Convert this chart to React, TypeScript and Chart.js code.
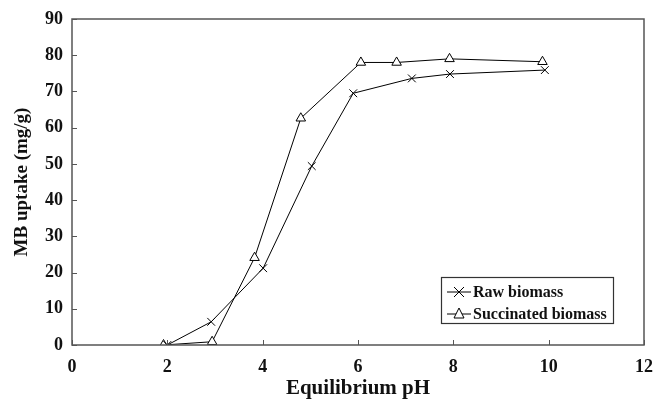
import React, { useEffect, useRef } from "react";
import { Chart, registerables } from "chart.js";

Chart.register(...registerables);

const rawPH = [2.0, 2.92, 4.01, 5.03, 5.9, 7.13, 7.93, 9.92];
const rawUptake = [0, 6.4, 21.2, 49.4, 69.5, 73.6, 74.8, 75.9];
const sucPH = [1.92, 2.94, 3.83, 4.8, 6.06, 6.81, 7.92, 9.87];
const sucUptake = [0, 0.9, 24.1, 62.6, 78.0, 78.0, 79.0, 78.2];
const seriesLabels = ["Raw biomass", "Succinated biomass"];
const xTicks = [0, 2, 4, 6, 8, 10, 12];
const yTicks = [0, 10, 20, 30, 40, 50, 60, 70, 80, 90];

const FONT = "'Liberation Serif', 'Times New Roman', serif";

const framePlugin = {
  id: "frameAndTicks",
  afterDatasetsDraw(chart: any) {
    const { ctx, chartArea, scales } = chart;
    ctx.save();
    ctx.strokeStyle = "#555";
    ctx.lineWidth = 1.5;
    ctx.strokeRect(chartArea.left, chartArea.top, chartArea.right - chartArea.left, chartArea.bottom - chartArea.top);
    ctx.lineWidth = 1;
    ctx.beginPath();
    xTicks.forEach((v) => {
      const px = Math.round(scales.x.getPixelForValue(v)) + 0.5;
      ctx.moveTo(px, chartArea.bottom);
      ctx.lineTo(px, chartArea.bottom - 5);
    });
    yTicks.forEach((v) => {
      const py = Math.round(scales.y.getPixelForValue(v)) + 0.5;
      ctx.moveTo(chartArea.left, py);
      ctx.lineTo(chartArea.left + 5, py);
    });
    ctx.stroke();

    // legend
    const lx = 441, ly = 277, lw = 172, lh = 46;
    ctx.fillStyle = "#fff";
    ctx.fillRect(lx, ly, lw, lh);
    ctx.strokeStyle = "#333";
    ctx.lineWidth = 1.2;
    ctx.strokeRect(lx + 0.5, ly + 0.5, lw, lh);
    const rows = [ly + 15, ly + 37];
    ctx.font = `bold 16px ${FONT}`;
    ctx.textBaseline = "middle";
    rows.forEach((ry, i) => {
      ctx.strokeStyle = "#000";
      ctx.lineWidth = 1;
      ctx.beginPath();
      ctx.moveTo(lx + 6, ry);
      ctx.lineTo(lx + 30, ry);
      ctx.stroke();
      const cx = lx + 18;
      if (i === 0) {
        ctx.beginPath();
        ctx.moveTo(cx - 5, ry - 5);
        ctx.lineTo(cx + 5, ry + 5);
        ctx.moveTo(cx + 5, ry - 5);
        ctx.lineTo(cx - 5, ry + 5);
        ctx.stroke();
      } else {
        ctx.fillStyle = "#fff";
        ctx.beginPath();
        ctx.moveTo(cx, ry - 6);
        ctx.lineTo(cx + 5, ry + 4);
        ctx.lineTo(cx - 5, ry + 4);
        ctx.closePath();
        ctx.fill();
        ctx.stroke();
      }
      ctx.fillStyle = "#111";
      ctx.textAlign = "left";
      ctx.fillText(chart.data.datasets[i].label, lx + 32, ry + 1);
    });
    ctx.restore();
  },
};

export default function App() {
  const ref = useRef<HTMLCanvasElement | null>(null);
  useEffect(() => {
    document.body.style.margin = "0";
    const chart = new Chart(ref.current!, {
      type: "scatter",
      data: {
        datasets: [
          {
            label: seriesLabels[0],
            data: rawPH.map((x, i) => ({ x, y: rawUptake[i] })),
            showLine: true,
            borderColor: "#000",
            borderWidth: 1,
            pointStyle: "crossRot",
            pointRadius: 5.5,
            pointBorderWidth: 1,
            pointBorderColor: "#000",
            pointBackgroundColor: "#fff",
          },
          {
            label: seriesLabels[1],
            data: sucPH.map((x, i) => ({ x, y: sucUptake[i] })),
            showLine: true,
            borderColor: "#000",
            borderWidth: 1,
            pointStyle: "triangle",
            pointRadius: 5.5,
            pointBorderWidth: 1,
            pointBorderColor: "#000",
            pointBackgroundColor: "#fff",
          },
        ],
      },
      options: {
        responsive: false,
        animation: false,
        layout: { padding: { left: 0, right: 12, top: 19, bottom: 0 } },
        plugins: { legend: { display: false }, tooltip: { enabled: false } },
        scales: {
          x: {
            type: "linear",
            min: 0,
            max: 12,
            afterBuildTicks: (s: any) => { s.ticks = xTicks.map((v) => ({ value: v })); },
            afterFit: (s: any) => { s.height = 58; s.paddingRight = 0; s.paddingLeft = 0; },
            grid: { display: false, drawTicks: false },
            border: { display: false },
            ticks: { padding: 12, color: "#111", font: { family: FONT, size: 18, weight: "bold" } },
            title: {
              display: true,
              text: "Equilibrium pH",
              color: "#111",
              padding: { top: 0, bottom: 2 },
              font: { family: FONT, size: 21, weight: "bold" },
            },
          },
          y: {
            type: "linear",
            min: 0,
            max: 90,
            afterBuildTicks: (s: any) => { s.ticks = yTicks.map((v) => ({ value: v })); },
            afterFit: (s: any) => { s.width = 72; s.paddingTop = 0; s.paddingBottom = 0; },
            grid: { display: false, drawTicks: false },
            border: { display: false },
            ticks: { padding: 9, color: "#111", font: { family: FONT, size: 18, weight: "bold" } },
            title: {
              display: true,
              text: "MB uptake (mg/g)",
              color: "#111",
              padding: { top: 11, bottom: 0 },
              font: { family: FONT, size: 19, weight: "bold" },
            },
          },
        },
      },
      plugins: [framePlugin],
    } as any);
    return () => chart.destroy();
  }, []);
  return <canvas ref={ref} width={656} height={403} style={{ display: "block" }} />;
}
